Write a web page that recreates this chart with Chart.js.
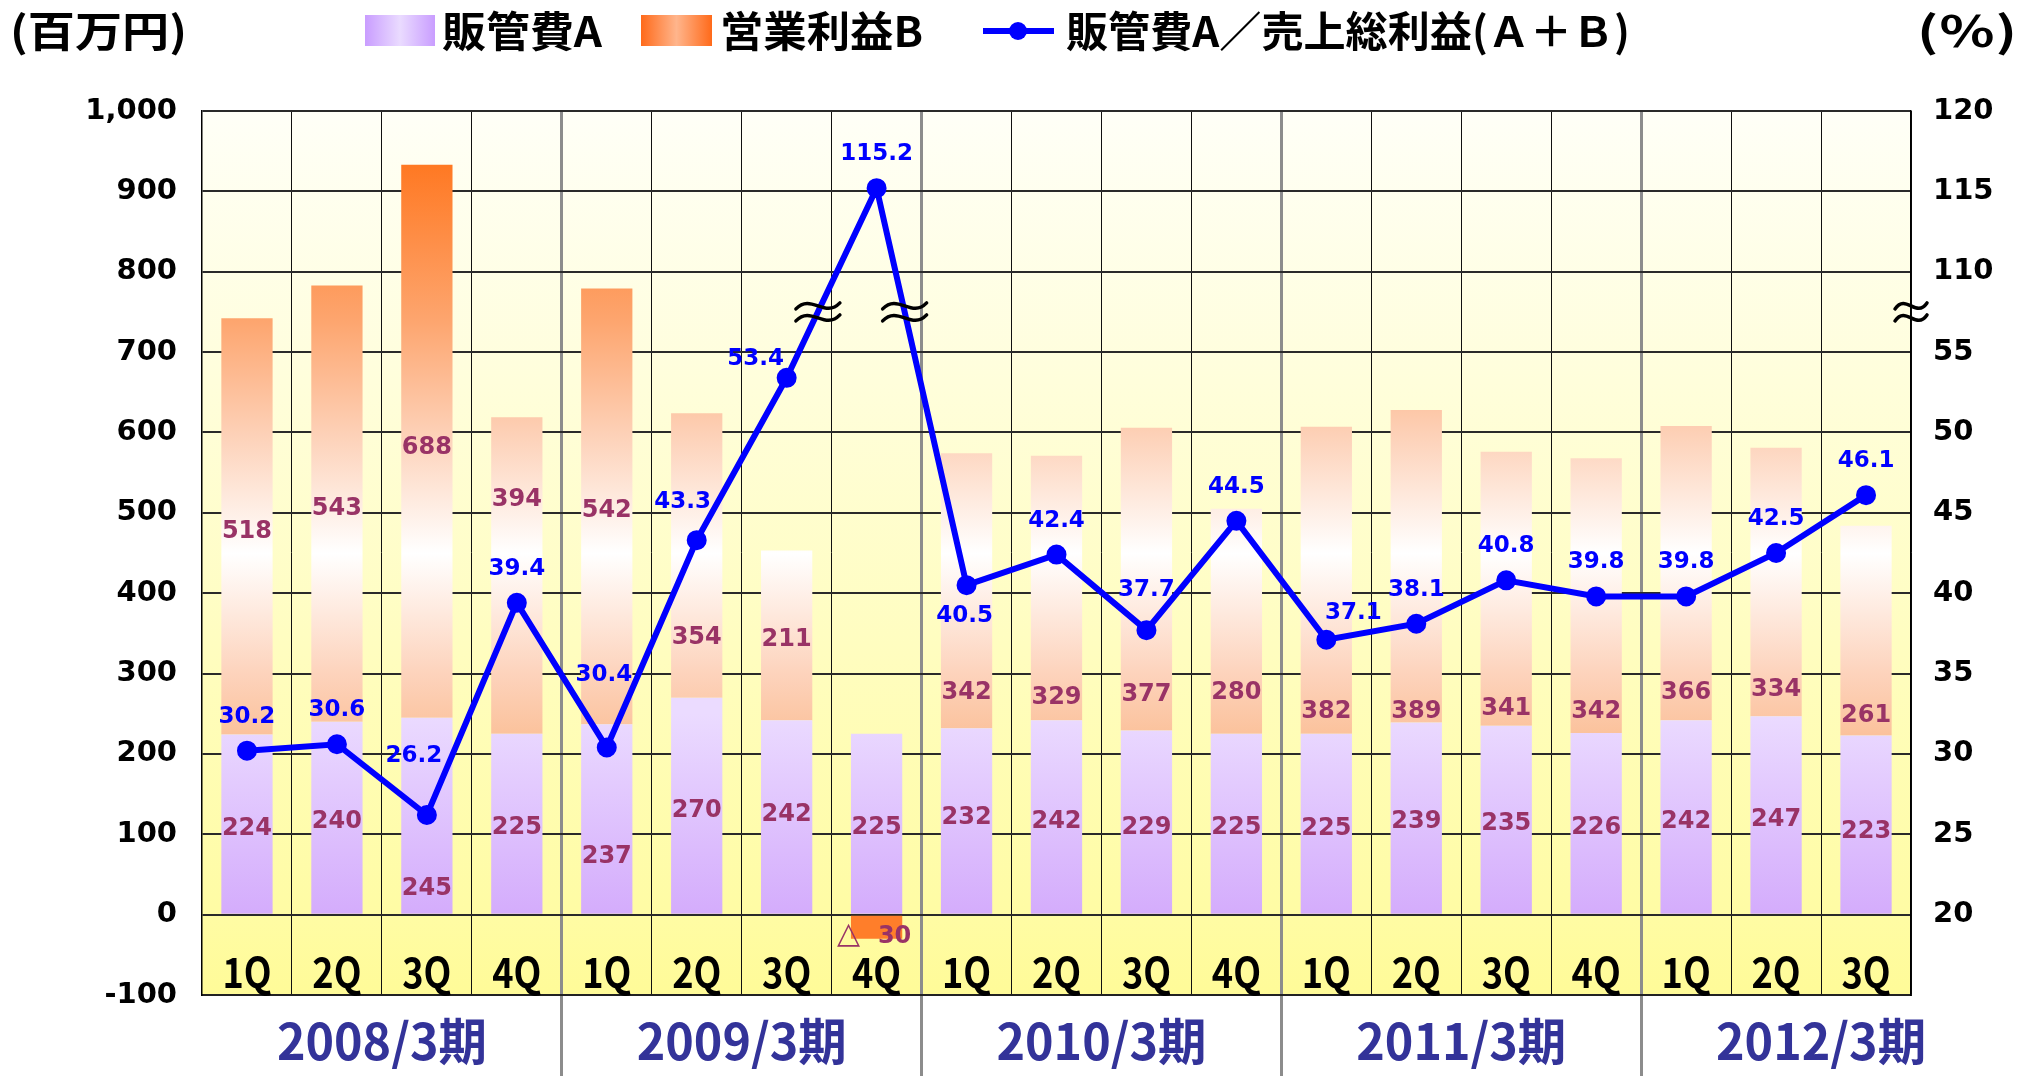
<!DOCTYPE html>
<html>
<head>
<meta charset="utf-8">
<script src="https://cdn.jsdelivr.net/npm/chart.js@4.4.0/dist/chart.umd.min.js"></script>
<style>
  html, body { margin: 0; padding: 0; background: #fff; }
</style>
</head>
<body>
<canvas id="chart" width="2022" height="1076"></canvas>
<script>
// categories
var quarters = ['1Q','2Q','3Q','4Q','1Q','2Q','3Q','4Q','1Q','2Q','3Q','4Q','1Q','2Q','3Q','4Q','1Q','2Q','3Q'];
var periods = ['2008/3期','2009/3期','2010/3期','2011/3期','2012/3期'];

// 販管費A (百万円)
var sgaA = [224,240,245,225,237,270,242,225,232,242,229,225,225,239,235,226,242,247,223];
// 営業利益B (百万円)
var opB = [518,543,688,394,542,354,211,-30,342,329,377,280,382,389,341,342,366,334,261];
// 販管費A／売上総利益(A+B) (%)
var ratio = [30.2,30.6,26.2,39.4,30.4,43.3,53.4,115.2,40.5,42.4,37.7,44.5,37.1,38.1,40.8,39.8,39.8,42.5,46.1];

// right axis is broken between 55 and 110
var breakLow = 55, breakHigh = 110;
function toAxis(r) { return r > breakLow ? r - (breakHigh - breakLow - 5) : r; }
function fromAxis(p) { return p > breakLow ? p + (breakHigh - breakLow - 5) : p; }

// where the hand placed labels sit (left axis units) and nudges for the % labels (px)
var aLabelAt = [107,115,32,108,72,129,124,108,121,116,108,108,107,116,113,108,116,118,103];
var bLabelAt = [477,505,581,516,502,345,342,-28,276,270,273,276,253,253,256,253,276,280,247];
var ratioShift = {2:[-13,-59], 4:[-3,-72], 5:[-14,-38], 6:[-31,-19], 8:[-2,31], 10:[0,-40], 12:[27,-27]};

function gradA(c) {
  var ch = c.chart;
  if (!ch.chartArea) return '#DDBBFF';
  var y = ch.scales.y;
  var g = ch.ctx.createLinearGradient(0, y.getPixelForValue(250), 0, y.getPixelForValue(0));
  g.addColorStop(0, '#EBDBFF');
  g.addColorStop(1, '#D4ACFC');
  return g;
}

function gradB(c) {
  var ch = c.chart;
  if (!ch.chartArea) return '#FDC8A8';
  if (c.raw < 0) return '#FF7E2A';
  var y = ch.scales.y;
  var g = ch.ctx.createLinearGradient(0, y.getPixelForValue(940), 0, y.getPixelForValue(220));
  g.addColorStop(0, '#FF7720');
  g.addColorStop(0.278, '#FDA56E');
  g.addColorStop(0.472, '#FDD0B6');
  g.addColorStop(0.681, '#FFFFFF');
  g.addColorStop(0.889, '#FDD3BC');
  g.addColorStop(1, '#FBC19A');
  return g;
}

function isYearLine(c) {
  return c.index === 4 || c.index === 8 || c.index === 12 || c.index === 16;
}

function fitText(ctx, text, x, y, w, align) {
  var m = ctx.measureText(text).width;
  var s = w / m;
  ctx.save();
  ctx.translate(x, y);
  ctx.scale(s, 1);
  ctx.textAlign = align || 'left';
  ctx.fillText(text, 0, 0);
  ctx.restore();
}

function squeezeText(ctx, text, x, y, k) {
  ctx.save();
  ctx.translate(x, y);
  ctx.scale(k, 1);
  ctx.fillText(text, 0, 0);
  ctx.restore();
}

function drawWave(ctx, cx, cy, hw) {
  ctx.save();
  ctx.strokeStyle = '#000';
  ctx.lineWidth = 3.5;
  ctx.lineCap = 'round';
  [-6, 6].forEach(function(d) {
    ctx.beginPath();
    ctx.moveTo(cx - hw, cy + d + 3);
    ctx.bezierCurveTo(cx - hw * 0.3, cy + d - 13, cx + hw * 0.3, cy + d + 13, cx + hw, cy + d - 3);
    ctx.stroke();
  });
  ctx.restore();
}

var background = {
  id: 'background',
  beforeDraw: function(chart) {
    var ctx = chart.ctx, a = chart.chartArea, y = chart.scales.y;
    ctx.save();
    ctx.fillStyle = '#fff';
    ctx.fillRect(0, 0, chart.width, chart.height);
    var g = ctx.createLinearGradient(0, a.top, 0, a.bottom);
    var z = (y.getPixelForValue(0) - a.top) / (a.bottom - a.top);
    g.addColorStop(0, '#FFFFF7');
    g.addColorStop(z, '#FFFCA4');
    g.addColorStop(1, '#FFFB98');
    ctx.fillStyle = g;
    ctx.fillRect(a.left, a.top, a.right - a.left, a.bottom - a.top);
    ctx.restore();
  }
};

var labels = {
  id: 'valueLabels',
  afterDatasetsDraw: function(chart) {
    var ctx = chart.ctx, x = chart.scales.x, y = chart.scales.y, a = chart.chartArea;
    var pts = chart.getDatasetMeta(0).data;
    ctx.save();
    ctx.textAlign = 'center';
    ctx.textBaseline = 'middle';

    // bar values
    ctx.fillStyle = '#993366';
    for (var i = 0; i < quarters.length; i++) {
      var cx = x.getPixelForValue(i);
      ctx.font = 'bold 24px "DejaVu Sans"';
      ctx.fillText(String(sgaA[i]), cx, y.getPixelForValue(aLabelAt[i]));
      var by = y.getPixelForValue(bLabelAt[i]);
      if (opB[i] < 0) {
        ctx.fillText(String(-opB[i]), cx + 18, by);
        ctx.font = '30px "DejaVu Sans"';
        ctx.fillText('△', cx - 28, by - 2);
      } else {
        ctx.fillText(String(opB[i]), cx, by);
      }
    }

    // ratio values
    ctx.font = 'bold 23px "DejaVu Sans"';
    ctx.fillStyle = '#0000FF';
    pts.forEach(function(p, i) {
      var s = ratioShift[i] || [0, -34];
      ctx.fillText(ratio[i].toFixed(1), p.x + s[0], p.y + s[1]);
    });

    // axis break marks
    var yb = chart.scales.y2.getPixelForValue(57.5);
    [[6, 7], [7, 8]].forEach(function(s) {
      var p = pts[s[0]], q = pts[s[1]];
      var k = (yb - p.y) / (q.y - p.y);
      drawWave(ctx, p.x + k * (q.x - p.x), yb, 22);
    });
    drawWave(ctx, a.right, yb, 16);

    // quarter labels inside the plot
    ctx.font = 'bold 42px "Noto Sans CJK JP"';
    ctx.fillStyle = '#000';
    for (var j = 0; j < quarters.length; j++) {
      squeezeText(ctx, quarters[j], x.getPixelForValue(j), y.getPixelForValue(-72), 0.86);
    }

    // fiscal years under the plot
    ctx.font = 'bold 50px "Noto Sans CJK JP"';
    ctx.fillStyle = '#333399';
    var cw = x.getPixelForValue(1) - x.getPixelForValue(0);
    periods.forEach(function(p, g) {
      fitText(ctx, p, x.getPixelForValue(g * 4) + 1.5 * cw, a.bottom + 46, 210, 'center');
    });
    ctx.restore();
  }
};

var topLegend = {
  id: 'topLegend',
  afterDraw: function(chart) {
    var ctx = chart.ctx;
    ctx.save();
    ctx.textBaseline = 'middle';
    ctx.font = 'bold 42px "Noto Sans CJK JP"';
    ctx.fillStyle = '#000';
    fitText(ctx, '(百万円)', 10, 31, 177);

    var g = ctx.createLinearGradient(365, 0, 435, 0);
    g.addColorStop(0, '#C99DFF');
    g.addColorStop(0.5, '#EADBFF');
    g.addColorStop(1, '#C99DFF');
    ctx.fillStyle = g;
    ctx.fillRect(365, 15, 70, 31);
    ctx.fillStyle = '#000';
    fitText(ctx, '販管費A', 442, 31, 160);

    g = ctx.createLinearGradient(641, 0, 712, 0);
    g.addColorStop(0, '#FF6A1A');
    g.addColorStop(0.5, '#FFB58C');
    g.addColorStop(1, '#FF6A1A');
    ctx.fillStyle = g;
    ctx.fillRect(641, 15, 71, 31);
    ctx.fillStyle = '#000';
    fitText(ctx, '営業利益B', 720, 31, 203);

    ctx.strokeStyle = '#0000FF';
    ctx.lineWidth = 6;
    ctx.beginPath();
    ctx.moveTo(983, 31);
    ctx.lineTo(1054, 31);
    ctx.stroke();
    ctx.fillStyle = '#0000FF';
    ctx.beginPath();
    ctx.arc(1018, 31, 9, 0, Math.PI * 2);
    ctx.fill();
    ctx.fillStyle = '#000';
    fitText(ctx, '販管費A／売上総利益(Ａ＋Ｂ)', 1066, 31, 564);

    fitText(ctx, '(％)', 2017, 31, 100, 'right');
    ctx.restore();
  }
};

new Chart(document.getElementById('chart'), {
  data: {
    labels: quarters,
    datasets: [
      {
        type: 'line',
        label: '販管費A／売上総利益(A+B)',
        data: ratio.map(toAxis),
        yAxisID: 'y2',
        borderColor: '#0000FF',
        backgroundColor: '#0000FF',
        borderWidth: 6,
        pointRadius: 7,
        pointHoverRadius: 7,
        tension: 0,
        order: 0
      },
      {
        type: 'bar',
        label: '販管費A',
        data: sgaA,
        yAxisID: 'y',
        stack: 's',
        backgroundColor: gradA,
        barPercentage: 0.57,
        categoryPercentage: 1,
        order: 1
      },
      {
        type: 'bar',
        label: '営業利益B',
        data: opB,
        yAxisID: 'y',
        stack: 's',
        backgroundColor: gradB,
        barPercentage: 0.57,
        categoryPercentage: 1,
        order: 1
      }
    ]
  },
  options: {
    responsive: false,
    animation: false,
    layout: { padding: { top: 111, left: 0, right: 0, bottom: 0 } },
    plugins: { legend: { display: false }, tooltip: { enabled: false } },
    scales: {
      x: {
        stacked: true,
        offset: true,
        afterFit: function(s) { s.height = 81; },
        ticks: { display: false },
        border: { display: true, color: '#222', width: 2 },
        grid: {
          offset: true,
          color: function(c) { return isYearLine(c) ? '#8C8C8C' : '#111'; },
          lineWidth: function(c) { return isYearLine(c) ? 3 : 1; },
          drawTicks: true,
          tickLength: 81,
          tickColor: function(c) { return isYearLine(c) ? '#8C8C8C' : 'rgba(0,0,0,0)'; },
          tickWidth: function(c) { return isYearLine(c) ? 3 : 1; }
        }
      },
      y: {
        position: 'left',
        stacked: true,
        min: -100,
        max: 1000,
        afterFit: function(s) { s.width = 202; },
        ticks: {
          stepSize: 100,
          padding: 25,
          color: '#000',
          font: { family: 'DejaVu Sans', size: 29, weight: 'bold' },
          callback: function(v) { return v.toLocaleString('en-US'); }
        },
        border: { display: true, color: '#000', width: 1.5 },
        grid: { color: '#2A2A2A', lineWidth: 2, drawTicks: false }
      },
      y2: {
        position: 'right',
        min: 15,
        max: 70,
        afterFit: function(s) { s.width = 111; },
        ticks: {
          stepSize: 5,
          padding: 22,
          color: '#000',
          font: { family: 'DejaVu Sans', size: 29, weight: 'bold' },
          callback: function(v) { return v < 20 ? '' : String(fromAxis(v)); }
        },
        border: { display: true, color: '#000', width: 1.5 },
        grid: { display: false, drawTicks: false }
      }
    }
  },
  plugins: [background, labels, topLegend]
});
</script>
</body>
</html>
